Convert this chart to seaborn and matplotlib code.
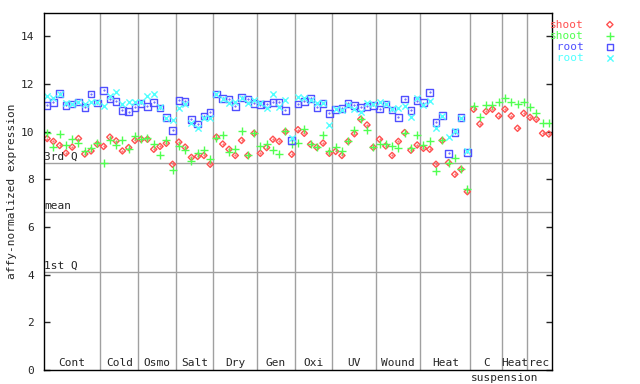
import numpy as np
import pandas as pd
import matplotlib
matplotlib.use("Agg")
import matplotlib.pyplot as plt
import seaborn as sns

# groups of samples, in order along the x axis
groups = ["Cont", "Cold", "Osmo", "Salt", "Dry", "Gen", "Oxi", "UV",
          "Wound", "Heat", "C", "Heat", "rec"]
group_sizes = [9, 6, 6, 6, 7, 6, 6, 7, 7, 8, 5, 4, 4]

# shoot / root expression values (root has no suspension samples)
shoot_red = [9.71, 9.59, 9.42, 9.10, 9.35, 9.71, 9.06, 9.19, 9.47,
             9.38, 9.77, 9.61, 9.19, 9.33, 9.63,
             9.68, 9.68, 9.26, 9.38, 9.51, 8.63,
             9.56, 9.35, 8.92, 8.96, 9.00, 8.63,
             9.77, 9.48, 9.26, 9.00, 9.63, 9.00, 9.93,
             9.09, 9.33, 9.68, 9.59, 10.00, 9.05,
             10.08, 9.93, 9.47, 9.34, 9.52, 9.09,
             9.17, 9.00, 9.59, 9.91, 10.52, 10.28, 9.34,
             9.68, 9.40, 9.00, 9.59, 9.96, 9.22, 9.44,
             9.30, 9.26, 8.63, 9.63, 8.70, 8.21, 8.42, 7.48,
             10.94, 10.32, 10.85, 10.94, 10.66,
             10.94, 10.66, 10.14, 10.77,
             10.60, 10.52, 9.93, 9.90]
shoot_green = [9.96, 9.35, 9.90, 9.42, 9.68, 9.51, 9.19, 9.33, 9.51,
               8.67, 9.63, 9.42, 9.63, 9.26, 9.82,
               9.71, 9.75, 9.50, 9.00, 9.63, 8.38,
               9.38, 9.22, 8.77, 9.10, 9.22, 8.84,
               9.73, 9.84, 9.14, 9.26, 10.03, 9.00, 9.96,
               9.38, 9.48, 9.22, 9.05, 10.03, 9.47,
               9.51, 10.10, 9.47, 9.34, 9.84, 9.17,
               9.34, 9.17, 9.59, 10.05, 10.52, 10.05, 9.34,
               9.48, 9.48, 9.40, 9.33, 9.96, 9.30, 9.84,
               9.43, 9.59, 8.35, 9.63, 8.67, 8.88, 8.42, 7.59,
               11.07, 10.60, 11.12, 11.12, 11.23,
               11.40, 11.23, 11.15, 11.23,
               11.02, 10.77, 10.35, 10.35]
root_blue = [11.10, 11.23, 11.61, 11.10, 11.15, 11.24, 11.02, 11.58, 11.21,
             11.73, 11.36, 11.27, 10.89, 10.84, 11.02,
             11.19, 11.06, 11.23, 11.00, 10.59, 10.05,
             11.31, 11.27, 10.52, 10.32, 10.66, 10.81,
             11.57, 11.40, 11.36, 11.06, 11.44, 11.36, 11.19,
             11.13, 11.15, 11.23, 11.23, 10.89, 9.63,
             11.15, 11.27, 11.40, 11.02, 11.19, 10.77,
             10.93, 10.98, 11.19, 11.10, 11.02, 11.06, 11.10,
             10.94, 11.15, 10.91, 10.60, 11.36, 10.89, 11.30,
             11.22, 11.65, 10.39, 10.67, 9.09, 9.96, 10.59, 9.13]
root_cyan = [11.50, 11.40, 11.58, 11.19, 11.17, 11.26, 11.16, 11.24, 11.24,
             11.06, 11.50, 11.66, 11.16, 11.24, 11.24,
             11.24, 11.50, 11.58, 11.02, 10.59, 10.47,
             10.98, 11.15, 10.35, 10.17, 10.59, 10.59,
             11.57, 11.36, 11.19, 11.23, 11.40, 11.19, 11.31,
             11.19, 10.98, 11.57, 11.02, 11.33, 9.72,
             11.47, 11.40, 11.31, 11.19, 11.19, 10.26,
             10.93, 10.89, 11.10, 10.93, 10.81, 11.19, 11.15,
             11.23, 11.15, 10.94, 10.98, 11.06, 10.60, 11.40,
             11.10, 11.30, 10.17, 10.67, 9.79, 10.04, 10.59, 9.20]

# summary lines
quartiles = {"3rd Q": 8.67, "mean": 6.61, "1st Q": 4.11}

n = sum(group_sizes)
x_shoot = np.arange(len(shoot_red))
x_root = np.arange(len(root_blue))

sns.set_theme(style="white")
plt.rcParams["font.family"] = ["DejaVu Sans Mono"]
plt.rcParams["font.size"] = 8

fig = plt.figure(figsize=(6.4, 3.84), dpi=100)
ax = fig.add_axes([44 / 640, 14.1 / 384, 508 / 640, 357.4 / 384])

red, green, blue, cyan = "#ff5050", "#50ff50", "#5050ff", "#50ffff"

sns.scatterplot(x=x_shoot, y=shoot_red, ax=ax, marker="D", s=10,
                facecolor="none", edgecolor=red, linewidth=1.0)
ax.scatter(x_shoot, shoot_red, marker=".", s=1, color=red)
sns.scatterplot(x=x_shoot, y=shoot_green, ax=ax, marker="+", s=34,
                color=green, linewidth=1.0)
sns.scatterplot(x=x_root, y=root_blue, ax=ax, marker="s", s=22,
                facecolor="none", edgecolor=blue, linewidth=1.0)
ax.scatter(x_root, root_blue, marker=".", s=1, color=blue)
sns.scatterplot(x=x_root, y=root_cyan, ax=ax, marker="x", s=20,
                color=cyan, linewidth=1.0)

coll = ax.collections
handles = [coll[0], coll[2], coll[3], coll[5]]

ax.set_xlim(-0.5, n - 0.5)
ax.set_ylim(0, 15)

# group separators and labels
edges = np.cumsum([0] + group_sizes) - 0.5
for e in edges[1:-1]:
    ax.axvline(e, color="#a0a0a0", lw=1, zorder=0)
for g, a, b in zip(groups, edges[:-1], edges[1:]):
    ax.text((a + b) / 2, 0.3, g, ha="center", va="center", fontsize=8)
ax.text(edges[10], -0.023, "suspension", ha="left", va="center",
        fontsize=8, transform=ax.get_xaxis_transform())

for lab, val in quartiles.items():
    ax.axhline(val, color="#a0a0a0", lw=1, zorder=0)
    ax.text(-0.45, val + 0.05, lab, ha="left", va="bottom", fontsize=8)

ax.set_xticks([])
ax.set_yticks(range(0, 15, 2))
ax.tick_params(axis="y", direction="in", length=4, width=1, pad=7,
               right=True, left=True, labelsize=8)
for sp in ax.spines.values():
    sp.set_color("black")
    sp.set_linewidth(1)
ax.set_ylabel("affy-normalized expression", fontsize=8, labelpad=3)

leg = ax.legend(handles, ["shoot", "shoot", " root", " root"],
                loc="upper left", bbox_to_anchor=(550 / 640, 1 - 19.5 / 384),
                bbox_transform=fig.transFigure, frameon=False,
                markerfirst=False, handlelength=1, handletextpad=1.85,
                labelspacing=0.1, borderpad=0, borderaxespad=0, fontsize=8)
for t, c in zip(leg.get_texts(), [red, green, blue, cyan]):
    t.set_color(c)

fig.savefig("out.png", dpi=100)
